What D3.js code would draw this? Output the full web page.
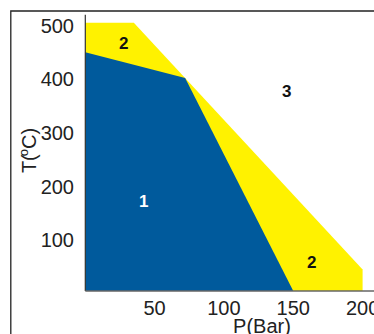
<!DOCTYPE html>
<html><head><meta charset="utf-8">
<script src="https://cdn.jsdelivr.net/npm/d3@7"></script>
<style>body{margin:0;background:#fff}svg{display:block}text{font-family:"Liberation Sans",Arial,sans-serif}</style>
</head><body>
<svg id="c" width="374" height="334"></svg>
<script>
// Region boundaries [P (bar), T (°C)]
const region2 = [[0,0],[0,500],[35,500],[200,40],[200,0]];
const region1 = [[0,0],[0,445],[72,397],[150,0]];
const regionLabels = [
  {text:"2", p:27.8, t:462, color:"#111"},
  {text:"3", p:145.3, t:373, color:"#111"},
  {text:"1", p:42.1, t:168, color:"#fff"},
  {text:"2", p:163.4, t:55, color:"#111"}
];
const xTicks = [50,100,150,200];
const yTicks = [100,200,300,400,500];

const svg = d3.select("#c");
const x = d3.scaleLinear().domain([0,200]).range([85.3,362.6]);
const y = d3.scaleLinear().domain([0,500]).range([291,22.7]);

// outer frame
svg.append("path").attr("d","M10.8,334 V11 H374").attr("fill","none").attr("stroke","#222").attr("stroke-width",1.3);

const line = d3.line().x(d=>x(d[0])).y(d=>y(d[1]));
svg.append("path").attr("d", line(region2)+"Z").attr("fill","#fff200");
svg.append("path").attr("d", line(region1)+"Z").attr("fill","#005a9c");

// axes lines
svg.append("line").attr("x1",x(0)).attr("x2",x(0)).attr("y1",14.7).attr("y2",y(0)).attr("stroke","#333").attr("stroke-width",1.2);
svg.append("line").attr("x1",x(0)).attr("x2",374).attr("y1",y(0)).attr("y2",y(0)).attr("stroke","#666").attr("stroke-width",1.4);

// tick labels
svg.selectAll(".yt").data(yTicks).join("text").attr("class","yt")
  .attr("x",74).attr("y",d=>y(d)+3).attr("dy","0.35em").attr("text-anchor","end")
  .attr("font-size",20).attr("fill","#222").text(d=>d);
svg.selectAll(".xt").data(xTicks).join("text").attr("class","xt")
  .attr("x",d=>x(d)).attr("y",315).attr("text-anchor","middle")
  .attr("font-size",20).attr("fill","#222").text(d=>d);

// axis titles
svg.append("text").attr("x",262).attr("y",333).attr("text-anchor","middle").attr("font-size",20).attr("fill","#222").text("P(Bar)");
const yt = svg.append("text").attr("transform","translate(35.5,150.5) rotate(-90)").attr("text-anchor","middle").attr("font-size",20).attr("fill","#222");
yt.append("tspan").text("T(");
yt.append("tspan").attr("font-size",13).attr("dy",-8).attr("dx",-2).text("o");
yt.append("tspan").attr("dy",8).text("C)");

// region labels
svg.selectAll(".rl").data(regionLabels).join("text").attr("class","rl")
  .attr("x",d=>x(d.p)).attr("y",d=>y(d.t)).attr("dy","0.36em").attr("text-anchor","middle")
  .attr("font-size",17).attr("font-weight","bold").attr("fill",d=>d.color).text(d=>d.text);
</script>
</body></html>
